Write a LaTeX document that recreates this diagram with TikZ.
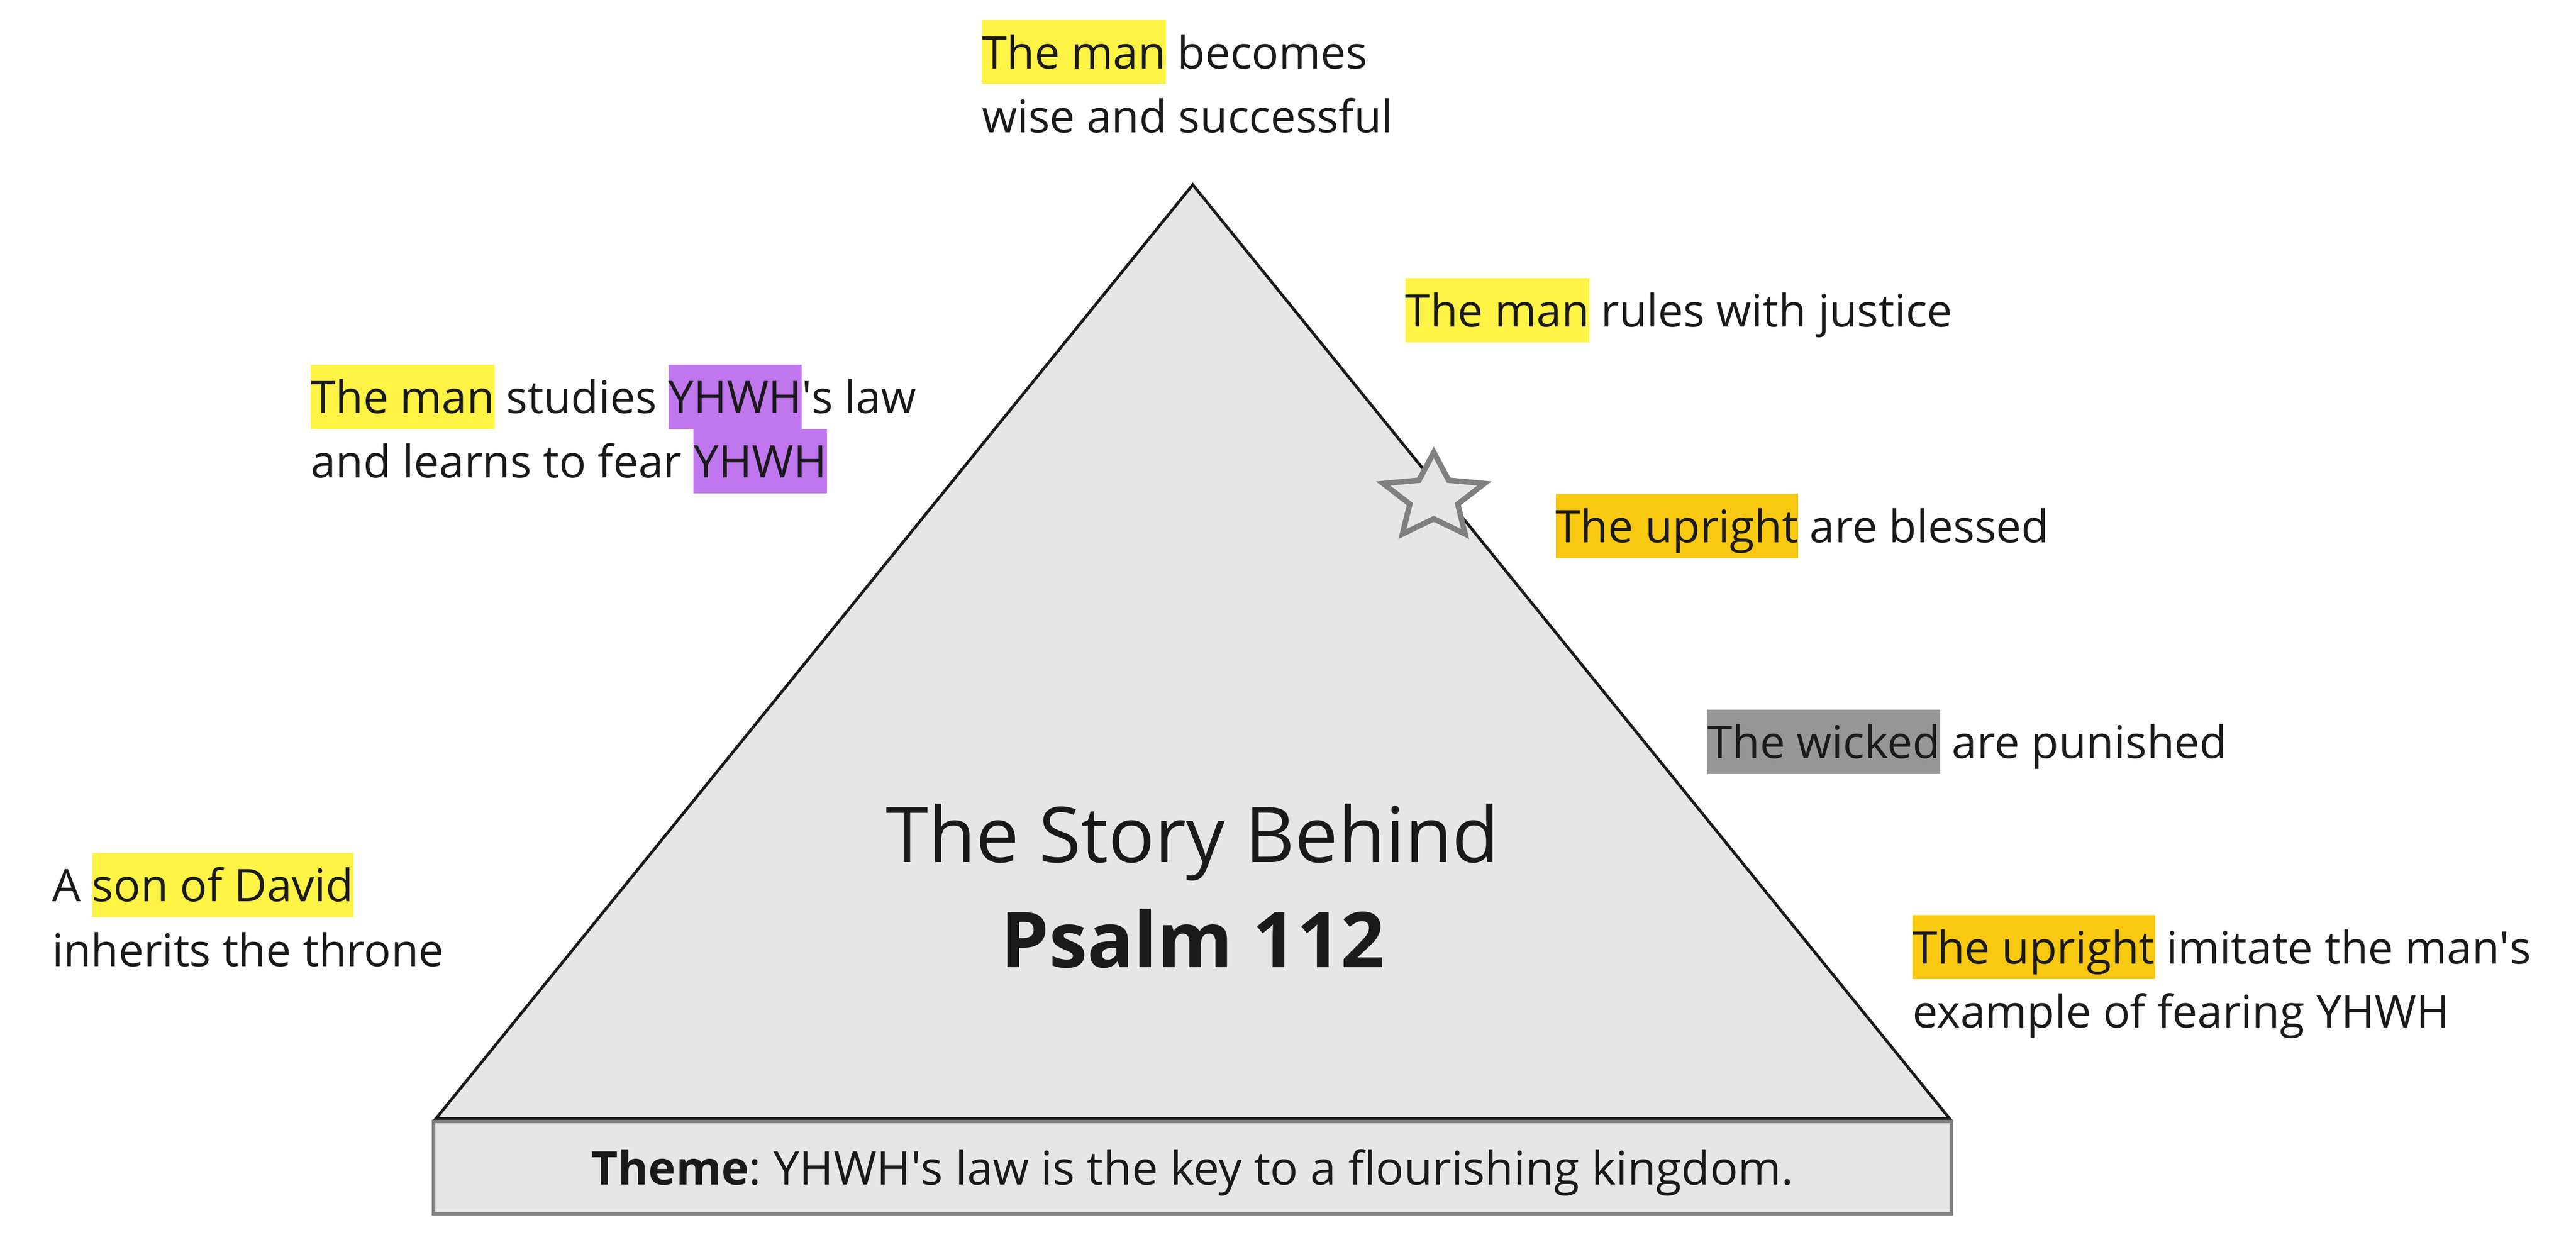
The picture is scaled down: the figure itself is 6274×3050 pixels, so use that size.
\documentclass[tikz,border=0pt]{standalone}
\usepackage{fontspec}
\setmainfont{Open Sans}

% colours of the highlights and shapes
\definecolor{hlyellow}{RGB}{255,243,69}
\definecolor{hlorange}{RGB}{249,200,17}
\definecolor{hlpurple}{RGB}{192,119,238}
\definecolor{hlgray}{RGB}{150,150,150}
\definecolor{textdark}{RGB}{26,26,26}
\definecolor{shade}{RGB}{230,230,230}
\definecolor{edgegray}{RGB}{128,128,128}

% highlighted words
\newcommand{\hl}[2]{{\setlength{\fboxsep}{0pt}\colorbox{#1}{\rule[-2.7pt]{0pt}{11.15pt}#2}}}
\newcommand{\apos}{\textquotesingle}

\tikzset{
  note/.style={anchor=base west, inner sep=0pt, text=textdark, font=\fontsize{7.8}{11.15}\selectfont},
  headline/.style={anchor=base, inner sep=0pt, text=textdark, font=\fontsize{13.35}{16}\selectfont},
}

\frenchspacing
\begin{document}
\begin{tikzpicture}[x=0.0025cm, y=-0.0025cm]
    \useasboundingbox (0,0) rectangle (6274,3050);

    % Theme box
    \draw[fill=shade, draw=edgegray, line width=0.6pt] (1056,2732) rectangle (4752,2957);
    \node[anchor=base, inner sep=0pt, text=textdark, font=\fontsize{8.05}{11}\selectfont] (theme) at (2904,2887)
        {\textbf{Theme}: YHWH\apos s law is the key to a flourishing kingdom.};

    % Pyramid
    \draw[fill=shade, draw=textdark, line width=0.5pt] (1062,2725) -- (2905,450) -- (4748,2725) -- cycle;

    % Star on the right slope
    \begin{scope}[shift={(3492,1212)}, xscale=1.18]
        \draw[fill=shade, draw=edgegray, line width=0.95pt]
            (-90:110) -- (-54:52) -- (-18:110) -- (18:52) -- (54:110) -- (90:52)
            -- (126:110) -- (162:52) -- (198:110) -- (234:52) -- cycle;
    \end{scope}

    % Title
    \node[headline] (title1) at (2905,2101) {The Story Behind};
    \node[headline] (title2) at (2905,2357) {\textbf{Psalm 112}};

    % Top
    \node[note] (wise1) at (2389,167) {\hl{hlyellow}{The man} becomes};
    \node[note] (wise2) at (2389,323) {wise and successful};

    % Left side
    \node[note] (law1) at (754,1007) {\hl{hlyellow}{The man} studies \hl{hlpurple}{YHWH}\apos s law};
    \node[note] (law2) at (754,1164) {and learns to fear \hl{hlpurple}{YHWH}};
    \node[note] (son1) at (124,2197) {A \hl{hlyellow}{son of David}};
    \node[note] (son2) at (124,2354) {inherits the throne};

    % Right side
    \node[note] (rules) at (3420,796) {\hl{hlyellow}{The man} rules with justice};
    \node[note] (bless) at (3786,1322) {\hl{hlorange}{The upright} are blessed};
    \node[note] (wicked) at (4156,1848) {\hl{hlgray}{The wicked} are punished};
    \node[note] (imit1) at (4655,2348) {\hl{hlorange}{The upright} imitate the man\apos s};
    \node[note] (imit2) at (4655,2504) {example of fearing YHWH};

\end{tikzpicture}
\end{document}
